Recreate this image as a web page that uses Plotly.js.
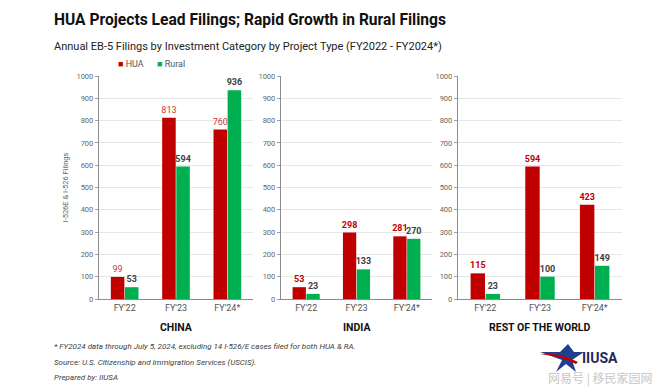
<!DOCTYPE html>
<html>
<head>
<meta charset="utf-8">
<script src="https://cdn.plot.ly/plotly-3.0.1.min.js"></script>
<style>html,body{margin:0;padding:0;background:#fff;}#chart{width:660px;height:391px;}</style>
</head>
<body>
<div id="chart"></div>
<script>
// ---- data ----
const years = ["FY'22", "FY'23", "FY'24*"];
const panels = ["CHINA", "INDIA", "REST OF THE WORLD"];
const seriesNames = ["HUA", "Rural"];
const huaChina = [99, 813, 760];
const ruralChina = [53, 594, 936];
const huaIndia = [53, 298, 281];
const ruralIndia = [23, 133, 270];
const huaRow = [115, 594, 423];
const ruralRow = [23, 100, 149];
const yTicks = [0, 100, 200, 300, 400, 500, 600, 700, 800, 900, 1000];

const RED = '#C00000', GREEN = '#00B050';
const hua = [huaChina, huaIndia, huaRow];
const rural = [ruralChina, ruralIndia, ruralRow];

const traces = [];
for (let i = 0; i < 3; i++) {
  const ax = i === 0 ? '' : String(i + 1);
  traces.push({
    type: 'bar', name: seriesNames[0], x: years, y: hua[i], xaxis: 'x' + ax, yaxis: 'y' + ax,
    marker: {color: RED}, showlegend: false, legendgroup: 'hua',
    text: hua[i].map(String), textposition: 'outside', cliponaxis: false, constraintext: 'none',
    textfont: {color: i === 0 ? '#D0343A' : '#C00000', size: 9, weight: i === 0 ? 'normal' : 'bold', family: 'Roboto, sans-serif'}
  });
  traces.push({
    type: 'bar', name: seriesNames[1], x: years, y: rural[i], xaxis: 'x' + ax, yaxis: 'y' + ax,
    marker: {color: GREEN}, showlegend: false, legendgroup: 'rural',
    text: rural[i].map(String), textposition: 'outside', cliponaxis: false, constraintext: 'none',
    textfont: {color: '#404040', size: 9, weight: 'bold', family: 'Roboto, sans-serif'}
  });
}

const H = 391, W = 660;
const yDom = [(H - 299) / H, (H - 76) / H];
const xDoms = [[99 / W, 253 / W], [281 / W, 432 / W], [458 / W, 622 / W]];

function yax(i) {
  return {
    domain: yDom, range: [0, 1000], tickvals: yTicks, ticktext: yTicks.map(String),
    showline: true, linecolor: '#8C8C8C', linewidth: 1.2,
    ticks: 'outside', ticklen: 3, tickcolor: '#A0A0A0',
    gridcolor: '#E6E6E6', gridwidth: 1, zeroline: false,
    tickfont: {size: 7.5, color: '#666', family: 'Roboto, sans-serif'},
    anchor: i === 0 ? 'x' : 'x' + (i + 1), fixedrange: true,
    title: i === 0 ? {text: 'I-526E & I-526 Filings', font: {size: 7.5, color: '#666', family: 'Roboto, sans-serif'}, standoff: 6} : {text: ''}
  };
}
function xax(i) {
  return {
    domain: xDoms[i], showline: true, linecolor: '#8C8C8C', linewidth: 1.2,
    ticks: '', tickfont: {size: 9, color: '#555', family: 'Roboto, sans-serif'},
    anchor: i === 0 ? 'y' : 'y' + (i + 1), fixedrange: true, type: 'category'
  };
}

const annotations = [];
panels.forEach((p, i) => {
  annotations.push({
    xref: 'paper', yref: 'paper', x: (xDoms[i][0] + xDoms[i][1]) / 2, y: (H - 327) / H,
    text: '<b>' + p + '</b>', showarrow: false, xanchor: 'center', yanchor: 'middle',
    font: {size: 10.5, color: '#111', family: 'Roboto, sans-serif'}
  });
});
// legend drawn as text
const legendX = [116, 155];
const legendColors = [RED, GREEN];
seriesNames.forEach((s, k) => {
  annotations.push({
    xref: 'paper', yref: 'paper', x: legendX[k] / W, y: (H - 64) / H, xanchor: 'left', yanchor: 'middle',
    text: '<span style="color:' + legendColors[k] + '">■</span> ' + s, showarrow: false,
    font: {size: 9, color: '#555', family: 'Roboto, sans-serif'}
  });
});
const notes = [
  '* FY2024 data through July 5, 2024, excluding 14 I-526/E cases filed for both HUA &amp; RA.',
  'Source: U.S. Citizenship and Immigration Services (USCIS).',
  'Prepared by: IIUSA'
];
const noteY = [346, 362, 377];
notes.forEach((n, k) => {
  annotations.push({
    xref: 'paper', yref: 'paper', x: 52 / W, y: (H - noteY[k]) / H, xanchor: 'left', yanchor: 'middle',
    text: '<i>' + n + '</i>', showarrow: false,
    font: {size: 8, color: '#404040', family: 'Roboto, sans-serif'}
  });
});
annotations.push({
  xref: 'paper', yref: 'paper', x: 52 / W, y: (H - 20) / H, xanchor: 'left', yanchor: 'middle',
  text: '<b>HUA Projects Lead Filings; Rapid Growth in Rural Filings</b>', showarrow: false,
  font: {size: 15.6, color: '#111', family: 'Roboto, sans-serif'}
});
annotations.push({
  xref: 'paper', yref: 'paper', x: 52 / W, y: (H - 47) / H, xanchor: 'left', yanchor: 'middle',
  text: 'Annual EB-5 Filings by Investment Category by Project Type (FY2022 - FY2024*)', showarrow: false,
  font: {size: 11, color: '#222', family: 'Roboto, sans-serif'}
});
annotations.push({
  xref: 'paper', yref: 'paper', x: 580 / W, y: (H - 358) / H, xanchor: 'left', yanchor: 'middle',
  text: '<b>IIUSA</b>', showarrow: false,
  font: {size: 14, color: '#1F2A5A', family: 'Roboto, sans-serif'}
});
annotations.push({
  xref: 'paper', yref: 'paper', x: 600 / W, y: (H - 378) / H, xanchor: 'center', yanchor: 'middle',
  text: '网易号 | 移民家园网', showarrow: false,
  font: {size: 12, color: '#C8C8C8', family: 'Noto Sans CJK SC, sans-serif'}
});

const shapes = [
  {type: 'path', xref: 'paper', yref: 'paper', layer: 'above',
   path: `M ${540/W} ${(H-352)/H} L ${560/W} ${(H-352)/H} L ${568/W} ${(H-344)/H} L ${574/W} ${(H-352)/H} L ${584/W} ${(H-352)/H} L ${572/W} ${(H-360)/H} L ${576/W} ${(H-372)/H} L ${566/W} ${(H-364)/H} L ${556/W} ${(H-372)/H} L ${562/W} ${(H-360)/H} Z`,
   fillcolor: '#1F3F8F', line: {width: 0}},
  {type: 'path', xref: 'paper', yref: 'paper', layer: 'above',
   path: `M ${540/W} ${(H-354)/H} Q ${560/W} ${(H-352)/H} ${578/W} ${(H-362)/H} L ${576/W} ${(H-364)/H} Q ${560/W} ${(H-356)/H} ${540/W} ${(H-354)/H} Z`,
   fillcolor: '#C00000', line: {width: 0}}
];

const layout = {
  width: W, height: H, margin: {l: 0, r: 0, t: 0, b: 0},
  paper_bgcolor: '#fff', plot_bgcolor: '#fff',
  barmode: 'group', bargap: 0.45, bargroupgap: 0.04,
  showlegend: false,
  xaxis: xax(0), yaxis: yax(0), xaxis2: xax(1), yaxis2: yax(1), xaxis3: xax(2), yaxis3: yax(2),
  annotations: annotations, shapes: shapes,
  font: {family: 'Roboto, sans-serif'}
};

Plotly.newPlot('chart', traces, layout, {displayModeBar: false, staticPlot: true});
</script>
</body>
</html>
